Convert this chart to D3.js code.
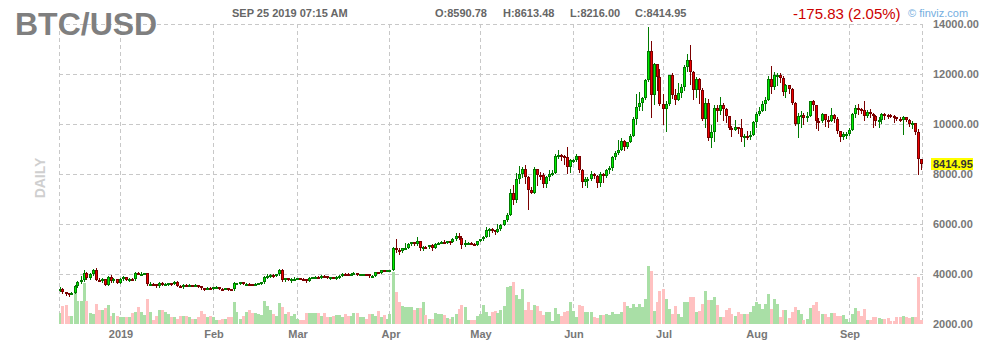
<!DOCTYPE html>
<html><head><meta charset="utf-8">
<script src="https://cdn.jsdelivr.net/npm/d3@7"></script>
<style>
body{margin:0;background:#fff;}
svg{display:block;font-family:Arial,"Liberation Sans",sans-serif;}
</style>
</head><body>
<svg id="c" width="984" height="360"></svg>
<script>
// ---------------- DATA ----------------
const firstDay = "2018-12-12";
const lastDay = "2019-09-25";
const monthTicks = ["2019-01-01","2019-02-01","2019-03-01","2019-04-01","2019-05-01","2019-06-01","2019-07-01","2019-08-01","2019-09-01"];
const monthLabels = ["2019","Feb","Mar","Apr","May","Jun","Jul","Aug","Sep"];
const priceTicks = [2000,4000,6000,8000,10000,12000,14000];
const gridPrices = [4000,6000,8000,10000,12000,14000];

const open = [
// Dec 12-31
3360,3420,3270,3230,3200,3240,3540,3690,3760,4040,3860,4000,4180,3780,3760,3800,3580,3880,3720,3800,
// Jan
3650,3800,3870,3780,3810,3790,4050,4000,4010,4030,3600,3620,3590,3510,3660,3580,3620,3640,3600,3700,3540,3530,3580,3550,3570,3560,3565,3530,3430,3400,3460,
// Feb
3440,3470,3500,3420,3415,3450,3400,3390,3640,3650,3670,3600,3620,3610,3600,3610,3630,3670,3890,3920,3970,3950,3980,4140,3760,3830,3800,3810,
// Mar
3820,3830,3820,3790,3720,3860,3870,3880,3860,3940,3920,3860,3880,3860,3870,3930,4020,3990,3980,4020,4050,3970,3990,4000,3990,3920,3940,4080,4060,4160,4140,
// Apr
4150,4160,5060,4980,4910,5040,5060,5200,5270,5190,5310,5050,5080,5070,5150,5030,5220,5240,5290,5270,5320,5290,5380,5530,5450,5180,5260,5260,5220,5170,
// May
5320,5380,5490,5750,5820,5760,5700,5820,5960,6160,6350,7250,6980,7820,7990,8200,7880,7360,7260,8190,7980,7950,7620,7880,7990,8060,8740,8780,8720,8660,8280,
// Jun
8550,8560,8740,8180,7680,7790,7810,8000,7930,7630,8010,7920,8170,8230,8690,8850,8970,9330,9080,9280,9530,10210,10690,10860,11040,11770,12930,11160,12400,11880,
// Jul
10820,10590,10820,11980,11150,10980,11250,11470,12300,12570,12100,11350,11800,11380,10200,10850,9430,9680,10650,10530,10760,10590,10330,9850,9770,9880,9850,9480,9540,9500,9580,
// Aug
10090,10400,10530,10820,10980,11800,11470,11960,11970,11860,11290,11560,11390,10860,10020,10310,10360,10230,10320,10920,10760,10140,10130,10400,10160,10140,10370,10190,9720,9500,9590,
// Sep 1-25
9600,9770,10390,10630,10590,10580,10320,10490,10420,10320,10110,10160,10420,10370,10360,10310,10270,10190,10160,10280,10170,9990,10040,9690,8590.78
];
const high = [
3480,3430,3300,3250,3280,3560,3720,3920,4140,4100,4030,4220,4250,3850,3850,3820,3920,3950,3850,3820,
3830,3910,3880,3830,3860,4090,4080,4100,4050,4050,3680,3640,3620,3700,3680,3660,3660,3650,3740,3720,3570,3620,3600,3590,3580,3620,3570,3540,3440,3480,3490,
3490,3510,3500,3440,3460,3460,3410,3700,3660,3690,3680,3640,3650,3620,3640,3650,3700,3930,4000,3990,4000,3990,4190,4200,3860,3840,3830,3880,
3860,3850,3830,3800,3880,3900,3910,3920,3950,3950,3930,3900,3890,3920,3950,4060,4030,4040,4040,4070,4060,4010,4010,4010,4000,3960,4100,4090,4180,4180,4160,
4180,5100,5380,5060,5060,5230,5240,5300,5290,5470,5330,5120,5120,5170,5190,5240,5290,5330,5350,5340,5330,5430,5620,5640,5530,5350,5290,5290,5250,5330,
5400,5540,5890,5840,5840,5780,6020,6000,6180,6440,7400,7560,8050,8330,8290,8380,7930,7480,8280,8190,8100,8030,7940,8170,8140,8820,8950,8820,8750,9090,8600,
8620,8800,8740,8190,7890,7880,8130,8050,7950,8080,8030,8220,8310,8730,8910,9370,9450,9360,9300,9600,10260,11200,11300,11100,11800,13880,13320,12440,12400,12200,
11220,10920,11980,12050,11400,11650,11600,12350,12820,13180,12120,11900,11840,11450,11050,11020,9950,10750,10750,11100,10850,10650,10330,9920,10180,9890,10200,9590,9730,9720,10120,
10480,10680,10900,11080,11940,12320,12080,12030,12040,11940,11590,11560,11460,10880,10460,10520,10460,10480,10940,10950,10770,10240,10440,10420,10330,10640,10390,10300,9720,9690,9680,
9830,10440,10780,10800,10650,10900,10550,10600,10450,10370,10280,10450,10450,10400,10400,10370,10290,10270,10330,10280,10190,10110,10060,9800,8613.48
];
const low = [
3340,3250,3180,3130,3190,3230,3480,3650,3730,3800,3820,3960,3750,3720,3700,3560,3570,3700,3700,3630,
3630,3760,3760,3740,3770,3760,3980,3960,3990,3550,3570,3560,3490,3500,3550,3570,3560,3580,3590,3520,3510,3460,3520,3530,3540,3540,3480,3400,3380,3390,3430,
3420,3450,3400,3400,3410,3380,3380,3380,3620,3610,3590,3580,3590,3570,3590,3600,3610,3660,3860,3880,3900,3920,3960,3740,3730,3780,3700,3780,
3800,3790,3780,3700,3710,3830,3850,3840,3850,3890,3840,3820,3840,3820,3860,3920,3960,3960,3960,3990,3950,3960,3970,3960,3900,3910,3930,4040,4050,4110,4120,
4110,4150,4880,4800,4900,5000,5050,5150,5150,5170,4950,4950,5050,5030,4980,5020,5200,5230,5230,5260,5220,5280,5370,5400,5020,5120,5200,5200,5140,5160,
5310,5360,5480,5520,5680,5600,5700,5760,5950,6120,6350,6800,6900,7650,7880,7650,6600,7250,7250,7550,7800,7500,7470,7780,7950,8020,8640,8560,8420,8050,8100,
8480,8540,8100,7460,7560,7460,7760,7850,7500,7520,7700,7870,8020,8140,8620,8810,8970,8940,9050,9270,9530,10020,10550,10560,11000,11710,10300,10790,11350,10750,
10000,9700,10780,11040,10810,10950,11100,11380,12120,11600,11000,11100,10830,10150,9880,9370,9080,9320,10120,10400,10150,10080,9820,9540,9750,9660,9330,9130,9400,9420,9570,
9880,10350,10500,10570,10980,11250,11400,11560,11680,11180,11100,11250,10800,9950,9500,9860,9990,10100,10320,10560,9850,9760,10070,9920,9900,10140,10070,9630,9330,9390,9450,
9560,9770,10300,10420,10450,10150,10300,10280,9900,9950,9860,10050,10190,10250,10300,10080,10150,10130,9620,10110,9920,9850,9620,7990,8216.00
];
const close = [
3420,3270,3230,3200,3240,3540,3690,3760,4040,3860,4000,4180,3780,3760,3800,3580,3880,3720,3800,3650,
3800,3870,3780,3810,3790,4050,4000,4010,4030,3600,3620,3590,3510,3660,3580,3620,3640,3600,3700,3540,3530,3580,3550,3570,3560,3565,3530,3430,3400,3460,3440,
3470,3500,3420,3415,3450,3400,3390,3640,3650,3670,3600,3620,3610,3600,3610,3630,3670,3890,3920,3970,3950,3980,4140,3760,3830,3800,3810,3820,
3830,3820,3790,3720,3860,3870,3880,3860,3940,3920,3860,3880,3860,3870,3930,4020,3990,3980,4020,4050,3970,3990,4000,3990,3920,3940,4080,4060,4160,4140,4150,
4160,5060,4980,4910,5040,5060,5200,5270,5190,5310,5050,5080,5070,5150,5030,5220,5240,5290,5270,5320,5290,5380,5530,5450,5180,5260,5260,5220,5170,5320,
5380,5490,5750,5820,5760,5700,5820,5960,6160,6350,7250,6980,7820,7990,8200,7880,7360,7260,8190,7980,7950,7620,7880,7990,8060,8740,8780,8720,8660,8280,8550,
8560,8740,8180,7680,7790,7810,8000,7930,7630,8010,7920,8170,8230,8690,8850,8970,9330,9080,9280,9530,10210,10690,10860,11040,11770,12930,11160,12400,11880,10820,
10590,10820,11980,11150,10980,11250,11470,12300,12570,12100,11350,11800,11380,10200,10850,9430,9680,10650,10530,10760,10590,10330,9850,9770,9880,9850,9480,9540,9500,9580,10090,
10400,10530,10820,10980,11800,11470,11960,11970,11860,11290,11560,11390,10860,10020,10310,10360,10230,10320,10920,10760,10140,10130,10400,10160,10140,10370,10190,9720,9500,9590,9600,
9770,10390,10630,10590,10580,10320,10490,10420,10320,10110,10160,10420,10370,10360,10310,10270,10190,10160,10280,10170,9990,10040,9690,8590.78,8414.95
];
// relative daily volume
const volume = [
11,18,19,8,8,32,23,23,41,23,11,10,20,14,14,16,19,8,11,8,
7,7,7,7,11,12,17,12,9,25,12,4,8,14,14,12,10,7,7,5,8,8,8,7,5,5,7,13,10,7,8,
7,4,4,5,5,7,7,22,12,5,8,12,14,11,11,10,9,23,18,14,10,8,21,17,10,12,8,10,
5,4,4,11,11,11,11,11,8,11,7,7,8,9,9,7,10,8,8,11,11,7,7,5,10,10,8,13,7,9,5,
10,52,32,22,18,17,17,17,14,16,16,22,9,5,5,11,10,10,9,6,5,7,10,15,19,17,4,4,4,8,
10,19,12,8,12,13,11,14,18,37,38,42,29,25,35,14,22,14,19,18,13,9,12,12,3,16,10,8,12,13,22,
13,7,19,18,12,12,12,7,6,9,9,10,9,12,10,10,12,22,18,16,20,17,20,17,25,58,53,13,22,33,
35,25,15,10,18,10,7,22,22,27,27,12,13,20,33,24,24,27,19,7,7,14,16,10,8,12,10,10,10,12,18,
22,20,15,20,30,15,25,20,7,14,14,6,12,17,14,10,4,5,16,19,22,13,10,10,7,11,11,8,8,9,5,
2,10,16,13,8,15,4,4,7,7,6,5,5,6,3,3,7,7,8,7,6,7,7,47,4
];

// ---------------- CHART ----------------
const svg = d3.select("#c");
const dates = d3.utcDay.range(new Date(firstDay+"T00:00Z"), d3.utcDay.offset(new Date(lastDay+"T00:00Z"),1));
const data = dates.map((d,i)=>({d, o:open[i], h:high[i], l:low[i], c:close[i], v:volume[i]}));

const L = 59, R = 922, T = 24, B = 324;
const x = d3.scaleUtc().domain([new Date("2019-01-01T00:00Z"), new Date("2019-09-01T00:00Z")]).range([120, 849]);
const y = d3.scaleLinear().domain([2000, 14000]).range([324, 24]);
const vy = d3.scaleLinear().domain([0, 60]).range([324, 264]);

const gridColor = "#c8c8c8";
const grid = svg.append("g").attr("stroke", gridColor).attr("stroke-dasharray", "4,3").attr("stroke-width",1);
gridPrices.forEach(p => {
  const yy = Math.round(y(p)) + 0.5;
  grid.append("line").attr("x1", L).attr("x2", R + 1).attr("y1", yy).attr("y2", yy);
});
[L, R].forEach(xx => grid.append("line").attr("x1", xx + 0.5).attr("x2", xx + 0.5).attr("y1", T).attr("y2", B));
monthTicks.forEach(m => {
  const xx = Math.floor(x(new Date(m+"T00:00Z"))) + 0.5;
  grid.append("line").attr("x1", xx).attr("x2", xx).attr("y1", T).attr("y2", B);
});

// volume
svg.append("g").selectAll("rect").data(data).join("rect")
  .attr("x", d => Math.floor(x(d.d)) - 1)
  .attr("width", 3)
  .attr("y", d => Math.round(vy(d.v)))
  .attr("height", d => B - Math.round(vy(d.v)))
  .attr("fill", d => d.c >= d.o ? "#a9dfa6" : "#ffc1c1");

// candles
const cg = svg.append("g");
data.forEach(d => {
  const px = Math.floor(x(d.d));
  const up = d.c >= d.o;
  const dark = up ? "#007a00" : "#7a0000";
  const bright = up ? "#00ee00" : "#ee0000";
  cg.append("line").attr("x1", px + 0.5).attr("x2", px + 0.5)
    .attr("y1", Math.round(y(d.h))).attr("y2", Math.round(y(d.l)) + 1)
    .attr("stroke", dark).attr("stroke-width", 1);
  let top = Math.round(y(Math.max(d.o, d.c)));
  let bot = Math.round(y(Math.min(d.o, d.c)));
  if (bot - top < 2) { bot = top + 2; }
  cg.append("rect").attr("x", px - 0.5).attr("y", top + 0.5)
    .attr("width", 2).attr("height", bot - top - 1)
    .attr("fill", bright).attr("stroke", dark).attr("stroke-width", 1);
});

// axes
const yAxis = d3.axisRight(y).tickValues(priceTicks).tickFormat(d3.format(".2f")).tickSize(0).tickPadding(0);
const ya = svg.append("g").attr("transform", "translate(933,0)").call(yAxis);
ya.select(".domain").remove();
ya.selectAll("text").attr("font-size", 11).attr("font-weight", "bold").attr("fill", "#777")
  .attr("font-family", "Arial, 'Liberation Sans', sans-serif").attr("dy", "0.36em");

const xAxis = d3.axisBottom(x).tickValues(monthTicks.map(m => new Date(m+"T00:00Z")))
  .tickFormat((d, i) => monthLabels[i]).tickSize(0).tickPadding(0);
const xa = svg.append("g").attr("transform", "translate(0.5,330)").call(xAxis);
xa.select(".domain").remove();
xa.selectAll("text").attr("font-size", 11).attr("font-weight", "bold").attr("fill", "#777")
  .attr("font-family", "Arial, 'Liberation Sans', sans-serif");

// last price tag
const lastP = close[close.length - 1];
const ly = y(lastP);
svg.append("rect").attr("x", 931).attr("y", Math.round(ly) - 6).attr("width", 42).attr("height", 12).attr("fill", "#ffff00");
svg.append("text").attr("x", 933).attr("y", ly).attr("dy", "0.36em")
  .attr("font-size", 11).attr("font-weight", "bold").attr("fill", "#333").text(lastP.toFixed(2));

// header
svg.append("text").attr("x", 15).attr("y", 35).attr("font-size", 32).attr("font-weight", "bold")
  .attr("fill", "#7f7f7f").text("BTC/USD");
svg.append("text").attr("x", 232).attr("y", 17).attr("font-size", 11).attr("font-weight", "bold")
  .attr("fill", "#666").text("SEP 25 2019 07:15 AM");
const lastIdx = open.length - 1;
const ohlc = [["O:", open[lastIdx], 435], ["H:", high[lastIdx], 503], ["L:", low[lastIdx], 570], ["C:", close[lastIdx], 635]];
ohlc.forEach(([k, v, xx]) => svg.append("text").attr("x", xx).attr("y", 17).attr("font-size", 11)
  .attr("font-weight", "bold").attr("fill", "#666").text(k + v.toFixed(2)));
const chg = close[lastIdx] - open[lastIdx];
svg.append("text").attr("x", 793).attr("y", 19).attr("font-size", 15).attr("fill", "#cc0000")
  .text(chg.toFixed(2) + " (" + Math.abs(chg / open[lastIdx] * 100).toFixed(2) + "%)");
svg.append("text").attr("x", 908).attr("y", 17).attr("font-size", 11).attr("fill", "#74aee0").text("© finviz.com");

svg.append("text").attr("transform", "translate(45,178) rotate(-90)").attr("text-anchor", "middle")
  .attr("font-size", 14).attr("font-weight", "bold").attr("fill", "#cfcfcf").text("DAILY");
</script>
</body></html>
